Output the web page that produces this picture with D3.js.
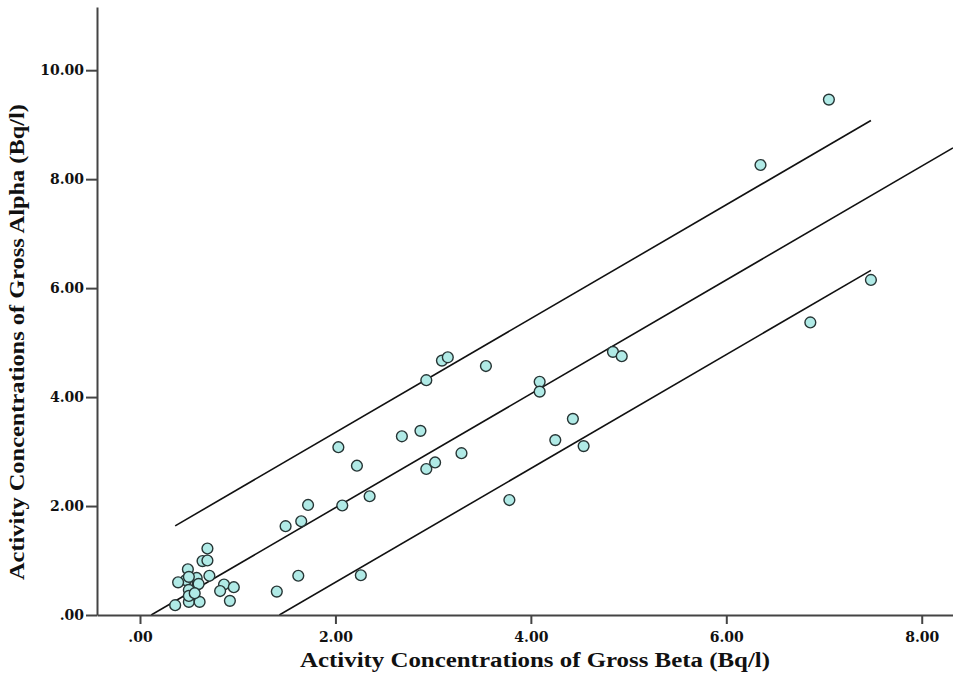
<html>

<head>
  <title>Gross alpha vs gross beta</title>
  <script type="text/javascript" src="https://cdn.jsdelivr.net/npm/d3@7"></script>
  <style>
    body { margin: 0; background: #fff; }
  </style>
</head>

<body>
  <script type="text/javascript">
    // Størrelse
    const w = 953;
    const h = 675;

    // Gross beta (x) og gross alpha (y), Bq/l
    const beta = [7.05, 6.35, 7.48, 6.86, 4.84, 4.93, 3.09, 3.15, 2.93, 3.54,
      4.09, 4.09, 4.43, 4.25, 4.54, 2.68, 2.87, 2.03, 2.22, 3.29,
      3.02, 2.93, 1.72, 2.07, 2.35, 1.49, 1.65, 3.78, 1.62, 2.26,
      1.40, 0.69, 0.64, 0.69, 0.49, 0.47, 0.58, 0.71, 0.59, 0.86,
      0.96, 0.82, 0.50, 0.50, 0.61, 0.92, 0.36, 0.39, 0.50, 0.50,
      0.60, 0.56];
    const alpha = [9.46, 8.26, 6.15, 5.37, 4.83, 4.75, 4.67, 4.73, 4.31, 4.57,
      4.28, 4.10, 3.60, 3.21, 3.10, 3.28, 3.38, 3.08, 2.74, 2.97,
      2.80, 2.68, 2.02, 2.01, 2.18, 1.63, 1.72, 2.11, 0.72, 0.73,
      0.43, 1.22, 0.99, 1.00, 0.84, 0.64, 0.68, 0.72, 0.56, 0.56,
      0.51, 0.44, 0.46, 0.24, 0.24, 0.26, 0.18, 0.60, 0.35, 0.70,
      0.57, 0.40];

    // Fit-linje og grænser (parallelle)
    const fitSlope = 1.045;
    const fitIntercepts = [1.26, -0.12, -1.49];
    const fitFullRange = [false, true, false];

    const xTicks = [0, 2, 4, 6, 8];
    const yTicks = [0, 2, 4, 6, 8, 10];
    const fmt = d => d === 0 ? ".00" : d3.format(".2f")(d);

    const xTitle = "Activity Concentrations of Gross Beta (Bq/l)";
    const yTitle = "Activity Concentrations of Gross Alpha (Bq/l)";

    const mLeft = 97, mRight = 953, mTop = 7, mBottom = 615;

    const xScale = d3.scaleLinear().domain([-0.44, 8.32]).range([mLeft, mRight]);
    const yScale = d3.scaleLinear().domain([0, 11.16]).range([mBottom, mTop]);

    const svg = d3.select("body")
      .append("svg")
      .attr("width", w)
      .attr("height", h);

    svg.append("clipPath").attr("id", "plot")
      .append("rect")
      .attr("x", mLeft).attr("y", mTop)
      .attr("width", mRight - mLeft).attr("height", mBottom - mTop);

    // Linjer
    const xMin = d3.min(beta), xMax = d3.max(beta);
    const lines = fitIntercepts.map(function (b, i) {
      let x0 = fitFullRange[i] ? xScale.domain()[0] : xMin;
      let x1 = fitFullRange[i] ? xScale.domain()[1] : xMax;
      x0 = Math.max(x0, -b / fitSlope);
      return [[x0, fitSlope * x0 + b], [x1, fitSlope * x1 + b]];
    });

    svg.append("g")
      .attr("clip-path", "url(#plot)")
      .selectAll("line")
      .data(lines)
      .enter()
      .append("line")
      .attr("x1", d => xScale(d[0][0]))
      .attr("y1", d => yScale(d[0][1]))
      .attr("x2", d => xScale(d[1][0]))
      .attr("y2", d => yScale(d[1][1]))
      .attr("stroke", "#111")
      .attr("stroke-width", 1.6);

    // Punkter
    svg.append("g")
      .selectAll("circle")
      .data(beta)
      .enter()
      .append("circle")
      .attr("cx", d => xScale(d))
      .attr("cy", (d, i) => yScale(alpha[i]))
      .attr("r", 5.4)
      .attr("fill", "#b0eae6")
      .attr("stroke", "#263434")
      .attr("stroke-width", 1.4);

    // Akser
    const xAxis = svg.append("g")
      .attr("transform", "translate(0," + mBottom + ")")
      .call(d3.axisBottom(xScale).tickValues(xTicks).tickFormat(fmt).tickSize(9).tickSizeOuter(0));
    const yAxis = svg.append("g")
      .attr("transform", "translate(" + mLeft + ",0)")
      .call(d3.axisLeft(yScale).tickValues(yTicks).tickFormat(fmt).tickSize(11).tickSizeOuter(0));

    [xAxis, yAxis].forEach(function (a) {
      a.selectAll(".domain").attr("stroke", "#444").attr("stroke-width", 2);
      a.selectAll(".tick line").attr("stroke", "#444").attr("stroke-width", 2);
      a.selectAll(".tick text")
        .attr("fill", "#111")
        .style("font-family", "'DejaVu Serif'")
        .style("font-weight", "bold")
        .style("font-size", "14px");
    });
    xAxis.selectAll(".tick text").attr("dy", "1.1em");
    yAxis.selectAll(".tick text").attr("x", -13);

    // Akse-titler
    svg.append("text")
      .attr("x", 535)
      .attr("y", 667)
      .attr("text-anchor", "middle")
      .attr("textLength", 470)
      .attr("lengthAdjust", "spacingAndGlyphs")
      .style("font-family", "'Liberation Serif'")
      .style("font-weight", "bold")
      .style("font-size", "20px")
      .attr("fill", "#111")
      .text(xTitle);

    svg.append("text")
      .attr("transform", "translate(24,342) rotate(-90)")
      .attr("text-anchor", "middle")
      .attr("textLength", 476)
      .attr("lengthAdjust", "spacingAndGlyphs")
      .style("font-family", "'Liberation Serif'")
      .style("font-weight", "bold")
      .style("font-size", "20px")
      .attr("fill", "#111")
      .text(yTitle);
  </script>
</body>

</html>
